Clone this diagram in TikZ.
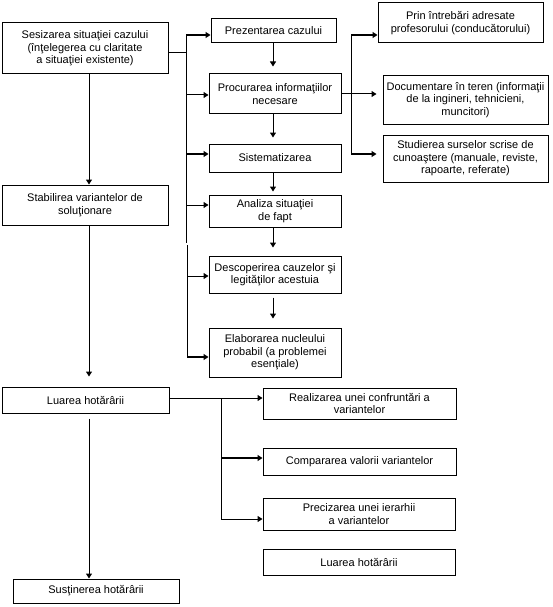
\documentclass[tikz,border=0pt]{standalone}
\usepackage{fontspec}
\setmainfont{Liberation Sans}
\usetikzlibrary{arrows.meta}
\begin{document}
\begin{tikzpicture}[x=1pt,y=-1pt,
  box/.style={draw, line width=1pt, rectangle, inner sep=0pt, align=center,
              font=\fontsize{11}{12.5}\selectfont},
  conn/.style={line width=1pt},
  arr/.style={line width=1pt, -{Triangle[length=5pt,width=6pt]}},
  thickarr/.style={line width=2pt, -{Triangle[length=5pt,width=6pt]}}]
\useasboundingbox (0,0) rectangle (553,607);

% left column
\node[box, minimum width=166, minimum height=51] (sez) at (85,48.5)
  {Sesizarea situaţiei cazului\\(înţelegerea cu claritate\\a situaţiei existente)};
\node[box, minimum width=166, minimum height=40] (stab) at (85,205)
  {Stabilirea variantelor de\\soluţionare};
\node[box, minimum width=167, minimum height=26] (luar) at (85.5,400)
  {Luarea hotărârii};
\node[box, minimum width=166, minimum height=24] (sust) at (96,591)
  {Susţinerea hotărârii};

% middle column
\node[box, minimum width=125, minimum height=24] (prez) at (273.5,31)
  {Prezentarea cazului};
\node[box, minimum width=132, minimum height=40] (proc) at (275,94)
  {Procurarea informaţiilor\\necesare};
\node[box, minimum width=132, minimum height=28] (sist) at (275,158)
  {Sistematizarea};
\node[box, minimum width=132, minimum height=32] (anal) at (275,211)
  {Analiza situaţiei\\de fapt};
\node[box, minimum width=132, minimum height=37] (desc) at (275,274.5)
  {Descoperirea cauzelor şi\\legităţilor acestuia};
\node[box, minimum width=132, minimum height=49] (elab) at (275,352.5)
  {Elaborarea nucleului\\probabil (a problemei\\esenţiale)};

% right column
\node[box, minimum width=165, minimum height=40] (prin) at (460.5,23)
  {Prin întrebări adresate\\profesorului (conducătorului)};
\node[box, minimum width=165, minimum height=48] (docu) at (465.5,100)
  {Documentare în teren (informaţii\\de la ingineri, tehnicieni,\\muncitori)};
\node[box, minimum width=165, minimum height=47] (stud) at (465.5,158.5)
  {Studierea surselor scrise de\\cunoaştere (manuale, reviste,\\rapoarte, referate)};

% bottom right
\node[box, minimum width=193, minimum height=31] (real) at (359.5,403.5)
  {Realizarea unei confruntări a\\variantelor};
\node[box, minimum width=193, minimum height=27] (comp) at (359.5,461.5)
  {Compararea valorii variantelor};
\node[box, minimum width=192, minimum height=32] (prec) at (359,514)
  {Precizarea unei ierarhii\\a variantelor};
\node[box, minimum width=192, minimum height=26] (luar2) at (359,562)
  {Luarea hotărârii};

% left column vertical flow
\draw[arr] ([xshift=4]sez.south) -- ([xshift=4]stab.north);
\draw[arr, shorten >=10] ([xshift=4]stab.south) -- ([xshift=3.5]luar.north);
\draw[arr, shorten <=5] ([xshift=3.5]luar.south) -- ([xshift=-7]sust.north);

% trunk to middle column
\coordinate (tS) at (186,53);
\coordinate (tA) at (186,35);
\coordinate (tB) at (186,243);
\coordinate (tC) at (187,245);
\coordinate (tD) at (187,357);
\coordinate (tP) at (186,95);
\coordinate (tQ) at (186,154);
\coordinate (tR) at (186,205);
\coordinate (tT) at (187,276);
\draw[conn] (sez.east |- tS) -- (tS);
\draw[conn] (tA) -- (tB);
\draw[conn] (tC) -- (tD);
\draw[thickarr] (tA) -- (tA -| prez.west);
\draw[arr] (tP) -- (tP -| proc.west);
\draw[thickarr] (tQ) -- (tQ -| sist.west);
\draw[arr] (tR) -- (tR -| anal.west);
\draw[arr] (tT) -- (tT -| desc.west);
\draw[thickarr] (tD) -- (tD -| elab.west);

% middle column vertical flow
\draw[arr, shorten >=7] ([xshift=-0.5]prez.south) -- ([xshift=-2]proc.north);
\draw[arr, shorten >=6] ([xshift=-2]proc.south) -- ([xshift=-2]sist.north);
\draw[arr, shorten >=3] ([xshift=-2]sist.south) -- ([xshift=-2]anal.north);
\draw[arr, shorten >=8] ([xshift=-2]anal.south) -- ([xshift=-2]desc.north);
\draw[arr, shorten <=4, shorten >=9] ([xshift=-2]desc.south) -- ([xshift=-2]elab.north);

% branch to right column
\coordinate (rA) at (351,35);
\coordinate (rB) at (351,154);
\draw[conn] (rA) -- (rB);
\draw[arr, shorten >=6] (proc.east) -- (proc.east -| docu.west);
\draw[thickarr] (rA) -- (rA -| prin.west);
\draw[thickarr, shorten >=6] (rB) -- (rB -| stud.west);

% branch to bottom right
\coordinate (bA) at (221,398);
\coordinate (bC) at (221,458);
\coordinate (bB) at (221,519);
\draw[conn] (luar.east |- bA) -- (bA);
\draw[conn] (bA) -- (bB);
\draw[arr] (bA) -- (bA -| real.west);
\draw[thickarr] (bC) -- (bC -| comp.west);
\draw[arr] (bB) -- (bB -| prec.west);
\end{tikzpicture}
\end{document}
